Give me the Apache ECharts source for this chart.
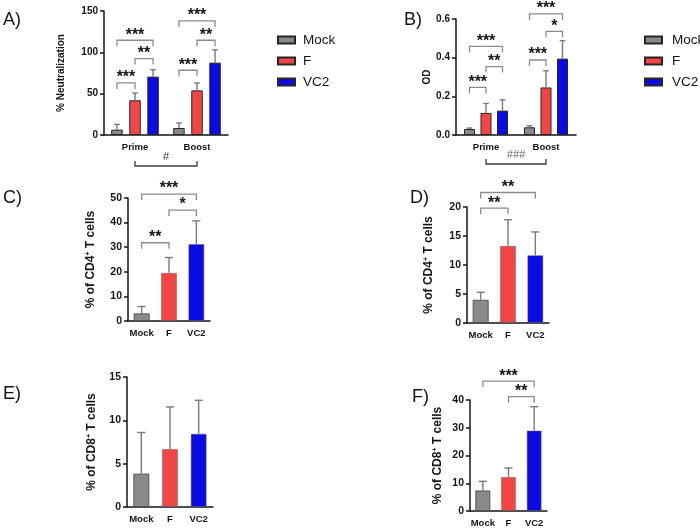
<!DOCTYPE html>
<html><head><meta charset="utf-8">
<script src="https://cdn.jsdelivr.net/npm/echarts@6/dist/echarts.min.js"></script>
<style>html,body{margin:0;padding:0;background:#fff}#c{width:700px;height:528px}</style>
</head><body><div id="c"></div>
<script>
// ---------- data ----------
const groups = ['Mock', 'F', 'VC2'];
const timepoints = ['Prime', 'Boost'];
const groupColors = ['#8a8a8a', '#f24545', '#0b0be6'];

// A) % Neutralization (mean, SD) per timepoint
const neutMock = [6.5, 8.5],   neutMockSD = [6.4, 6.0];
const neutF    = [42.0, 54.0], neutFSD    = [8.8, 8.9];
const neutVC2  = [70.6, 87.5], neutVC2SD  = [8.4, 15.5];
// [timepoint, groupFrom, groupTo, y, label]
const neutSig = [[0,0,1,63,'***'],[0,1,2,92.5,'**'],[0,0,2,114.6,'***'],
                 [1,0,1,78.3,'***'],[1,1,2,114.6,'**'],[1,0,2,138,'***']];
const neutTimeSig = '#';

// B) OD
const odMock = [0.031, 0.040], odMockSD = [0.005, 0.008];
const odF    = [0.114, 0.246], odFSD    = [0.049, 0.086];
const odVC2  = [0.126, 0.395], odVC2SD  = [0.056, 0.093];
const odSig = [[0,0,1,0.246,'***'],[0,1,2,0.354,'**'],[0,0,2,0.458,'***'],
               [1,0,1,0.388,'***'],[1,1,2,0.536,'*'],[1,0,2,0.626,'***']];
const odTimeSig = '###';

// C) % of CD4+ T cells
const cd4cMean = [3.1, 19.6, 31.3], cd4cSD = [2.8, 6.2, 9.4];
const cd4cSig = [[0,1,31.8,'**'],[1,2,45.1,'*'],[0,2,51.6,'***']];
// D) % of CD4+ T cells
const cd4dMean = [4.0, 13.3, 11.7], cd4dSD = [1.3, 4.5, 4.0];
const cd4dSig = [[0,1,19.8,'**'],[0,2,22.5,'**']];
// E) % of CD8+ T cells
const cd8eMean = [3.85, 6.7, 8.46], cd8eSD = [4.75, 4.85, 3.85];
const cd8eSig = [];
// F) % of CD8+ T cells
const cd8fMean = [7.4, 12.3, 29.0], cd8fSD = [3.3, 3.2, 8.6];
const cd8fSig = [[1,2,41.2,'**'],[0,2,46.8,'***']];

// ---------- styling helpers ----------
const FONT = "'Liberation Sans', Arial, sans-serif";
const INK = '#151515';
const BRK = '#8c8c8c';

const grids = [
  {left:104, top:11,  width:124, height:124},
  {left:456, top:19,  width:120, height:116},
  {left:128, top:198, width:82,  height:123},
  {left:467, top:207, width:82,  height:116},
  {left:127, top:377, width:86,  height:130},
  {left:470, top:400, width:77,  height:112}
];

function xAx(i, cats, fs) {
  return {type:'category', gridIndex:i, data:cats,
    axisLine:{lineStyle:{color:INK, width:1.5}},
    axisTick:{alignWithLabel:true, length:4, lineStyle:{color:INK, width:1.5}},
    axisLabel:{fontFamily:FONT, fontWeight:'bold', fontSize:fs, color:INK, margin:7, interval:0}};
}
function yAx(i, min, max, step, name, gap, nameFs, labFs, dec) {
  return {type:'value', gridIndex:i, min:min, max:max, interval:step,
    name:name, nameLocation:'middle', nameGap:gap,
    nameTextStyle:{fontFamily:FONT, fontWeight:'bold', fontSize:nameFs, color:INK,
      rich:{sup:{fontFamily:FONT, fontWeight:'bold', fontSize:Math.round(nameFs*0.62), color:INK, verticalAlign:'top', padding:[0,0,4,0]}}},
    axisLine:{show:true, lineStyle:{color:INK, width:1.5}},
    axisTick:{show:true, length:4, lineStyle:{color:INK, width:1.5}},
    splitLine:{show:false},
    axisLabel:{fontFamily:FONT, fontWeight:'bold', fontSize:labFs, color:INK, margin:6,
      formatter: v => dec ? v.toFixed(dec) : String(v)}};
}

function errSeries(i, rows, spacing, capHalf) {
  return {type:'custom', xAxisIndex:i, yAxisIndex:i, z:5, silent:true,
    encode:{x:0, y:2},
    data: rows,
    renderItem: function (params, api) {
      const cat = api.value(0), slot = api.value(1), m = api.value(2), sd = api.value(3);
      const p0 = api.coord([cat, m]), p1 = api.coord([cat, m + sd]);
      const x = p0[0] + (slot - 1) * spacing;
      const st = {stroke:'#7a7a7a', lineWidth:1.4, fill:null};
      return {type:'group', children:[
        {type:'line', shape:{x1:x, y1:p0[1], x2:x, y2:p1[1]}, style:st},
        {type:'line', shape:{x1:x-capHalf, y1:p1[1], x2:x+capHalf, y2:p1[1]}, style:st}
      ]};
    }};
}

function sigText(x, y, label) {
  return {type:'text', style:{x:x, y:y, text:label, font:'bold 16px ' + FONT, fill:INK, align:'center', verticalAlign:'middle'}};
}
function bracket(x1, x2, y, label) {
  return [
    {type:'polyline', shape:{points:[[x1,y+6],[x1,y],[x2,y],[x2,y+6]]}, style:{stroke:BRK, lineWidth:1.3, fill:null}},
    sigText((x1+x2)/2, y-5, label)
  ];
}

function groupedSigSeries(i, list, spacing) {
  return {type:'custom', xAxisIndex:i, yAxisIndex:i, z:6, silent:true,
    encode:{x:0, y:1},
    data: list.map(b => [b[0], b[3]]),
    renderItem: function (params, api) {
      const b = list[params.dataIndex];
      const p = api.coord([b[0], b[3]]);
      return {type:'group', children: bracket(p[0] + (b[1]-1)*spacing, p[0] + (b[2]-1)*spacing, p[1], b[4])};
    }};
}
function singleSigSeries(i, list) {
  return {type:'custom', xAxisIndex:i, yAxisIndex:i, z:6, silent:true,
    encode:{x:0, y:2},
    data: list.map(b => [b[0], b[1], b[2]]),
    renderItem: function (params, api) {
      const b = list[params.dataIndex];
      const p1 = api.coord([b[0], b[2]]), p2 = api.coord([b[1], b[2]]);
      return {type:'group', children: bracket(p1[0], p2[0], p1[1], b[3])};
    }};
}
function timeSigSeries(i, label, lineOff, textOff, italic) {
  return {type:'custom', xAxisIndex:i, yAxisIndex:i, z:6, silent:true,
    encode:{x:0, y:1},
    data: [[0, 0]],
    renderItem: function (params, api) {
      const a = api.coord([0, 0]), b = api.coord([1, 0]);
      const y = a[1] + lineOff;
      return {type:'group', children:[
        {type:'polyline', shape:{points:[[a[0],y-5],[a[0],y],[b[0],y],[b[0],y-5]]}, style:{stroke:'#3a3a3a', lineWidth:1.3, fill:null}},
        {type:'text', style:{x:(a[0]+b[0])/2, y:a[1]+textOff, text:label,
          font:(italic ? 'italic ' : '') + '11px ' + FONT, fill:italic ? '#666' : '#333', align:'center', verticalAlign:'middle'}}
      ]};
    }};
}

function groupedBars(i, means, bw, gap, border) {
  return means.map((m, g) => ({
    type:'bar', name:groups[g], xAxisIndex:i, yAxisIndex:i, data:m,
    barWidth:bw, barGap:gap,
    itemStyle:{color:groupColors[g], borderColor:border, borderWidth:1}
  }));
}
function singleBars(i, means, bw, name) {
  return {type:'bar', name:name, xAxisIndex:i, yAxisIndex:i, barWidth:bw,
    data: means.map((v, g) => ({value:v, itemStyle:{color:groupColors[g],
      borderColor: g === 0 ? '#555' : 'rgba(90,90,90,0.45)', borderWidth:1}}))};
}
function singleErrRows(means, sds) { return means.map((m, g) => [g, 1, m, sds[g]]); }
function groupedErrRows(list) {
  const rows = [];
  list.forEach((pair, g) => pair[0].forEach((m, t) => rows.push([t, g, m, pair[1][t]])));
  return rows;
}

const cd4Name = '% of CD4{sup|+} T cells';
const cd8Name = '% of CD8{sup|+} T cells';

const spA = 11.5 * 1.57, spB = 11 * 1.5;

const option = {
  animation:false,
  backgroundColor:'#ffffff',
  grid: grids.map(g => Object.assign({containLabel:false}, g)),
  legend: [
    {data:groups, orient:'vertical', left:272, top:28, icon:'rect', itemWidth:17, itemHeight:7, itemGap:7,
     selectedMode:false, textStyle:{fontFamily:FONT, fontSize:13.5, color:INK, padding:[0,0,0,3]}},
    {data:groups, orient:'vertical', left:639, top:28, icon:'rect', itemWidth:17, itemHeight:7, itemGap:7,
     selectedMode:false, textStyle:{fontFamily:FONT, fontSize:13.5, color:INK, padding:[0,0,0,5]}}
  ],
  xAxis: [
    xAx(0, timepoints, 9.5), xAx(1, timepoints, 9.5),
    xAx(2, groups, 9.5), xAx(3, groups, 9.5), xAx(4, groups, 9.5), xAx(5, groups, 9.5)
  ],
  yAxis: [
    yAx(0, 0, 150, 50, '% Neutralization', 38, 10, 10, 0),
    yAx(1, 0, 0.6, 0.2, 'OD', 20, 10, 10, 1),
    yAx(2, 0, 50, 10, cd4Name, 31, 12, 10.5, 0),
    yAx(3, 0, 20, 5, cd4Name, 32, 12, 10.5, 0),
    yAx(4, 0, 15, 5, cd8Name, 29, 12, 10.5, 0),
    yAx(5, 0, 40, 10, cd8Name, 26, 12, 10.5, 0)
  ],
  series: [].concat(
    groupedBars(0, [neutMock, neutF, neutVC2], 11.5, '57%', '#262626'),
    [errSeries(0, groupedErrRows([[neutMock,neutMockSD],[neutF,neutFSD],[neutVC2,neutVC2SD]]), spA, 2.8),
     groupedSigSeries(0, neutSig, spA),
     timeSigSeries(0, neutTimeSig, 31, 22, false)],
    groupedBars(1, [odMock, odF, odVC2], 11, '50%', '#262626'),
    [errSeries(1, groupedErrRows([[odMock,odMockSD],[odF,odFSD],[odVC2,odVC2SD]]), spB, 2.8),
     groupedSigSeries(1, odSig, spB),
     timeSigSeries(1, odTimeSig, 29, 20, true)],
    [singleBars(2, cd4cMean, 16, 'C'), errSeries(2, singleErrRows(cd4cMean, cd4cSD), 0, 4), singleSigSeries(2, cd4cSig)],
    [singleBars(3, cd4dMean, 16, 'D'), errSeries(3, singleErrRows(cd4dMean, cd4dSD), 0, 4), singleSigSeries(3, cd4dSig)],
    [singleBars(4, cd8eMean, 16, 'E'), errSeries(4, singleErrRows(cd8eMean, cd8eSD), 0, 4), singleSigSeries(4, cd8eSig)],
    [singleBars(5, cd8fMean, 15, 'Fp'), errSeries(5, singleErrRows(cd8fMean, cd8fSD), 0, 4), singleSigSeries(5, cd8fSig)]
  ),
  graphic: [
    ['A)', 3, 21.5], ['B)', 404, 21.5], ['C)', 3, 199], ['D)', 410, 199.5], ['E)', 3, 395], ['F)', 412, 398]
  ].map(p => ({type:'text', left:p[1], top:p[2]-10, style:{text:p[0], font:'18px ' + FONT, fill:INK}}))
};

const chart = echarts.init(document.getElementById('c'), null, {renderer:'canvas'});
chart.setOption(option);
</script>
</body></html>
